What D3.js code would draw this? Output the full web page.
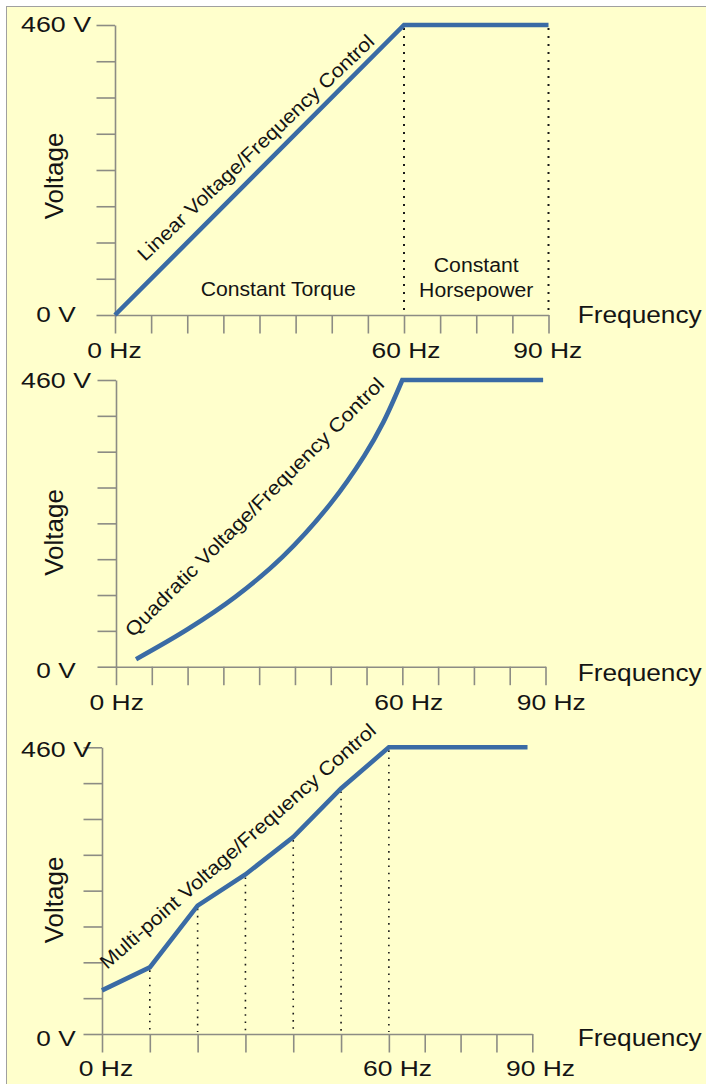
<!DOCTYPE html>
<html><head><meta charset="utf-8">
<script src="https://cdn.jsdelivr.net/npm/d3@7"></script>
<style>
html,body{margin:0;padding:0;background:#ffffff;}
svg{display:block;}
</style>
</head><body>
<svg id="chart" width="706" height="1084"></svg>
<script>
// ---------- data ----------
const voltTicks = [0, 57.5, 115, 172.5, 230, 287.5, 345, 402.5, 460];
const hzTicksUniform = [0, 7.5, 15, 22.5, 30, 37.5, 45, 52.5, 60, 67.5, 75, 82.5, 90];
const hzTicksMulti = [0, 10, 20, 30, 40, 50, 60, 67.5, 75, 82.5, 90];
const voltLabelValues = [0, 460];
const voltLabelTexts = ["0 V", "460 V"];
const hzLabelValues = [0, 60, 90];
const hzLabelTexts = ["0 Hz", "60 Hz", "90 Hz"];

const linearFreq = [0, 60, 90];
const linearVolt = [0, 460, 460];
const linearGuideFreq = [60, 90];
const linearGuideVolt = [460, 460];

const quadFreq = [4.2, 15, 25, 35, 45, 52, 56, 60];
const quadVolt = [12, 60, 112, 177, 262, 338, 392, 460];
const quadFlatEndFreq = 89.5;

const multiFreq = [0, 10, 20, 30, 40, 50, 60, 89];
const multiVolt = [70, 107, 206, 256, 316, 394, 460, 460];
const multiGuideFreq = [10, 20, 30, 40, 50, 60];
const multiGuideVolt = [107, 206, 256, 316, 394, 460];

const curveTitles = ["Linear Voltage/Frequency Control", "Quadratic Voltage/Frequency Control", "Multi-point Voltage/Frequency Control"];
const regionTexts = ["Constant Torque", "Constant", "Horsepower"];
const yTitle = "Voltage";
const xTitle = "Frequency";

// ---------- style ----------
const FONT = '"Liberation Sans", Arial, Helvetica, sans-serif';
const LINE_COLOR = "#3a6ba5";
const AXIS_COLOR = "#8c8c84";
const TEXT_COLOR = "#141414";

const svg = d3.select("#chart");
svg.append("rect")
  .attr("x", 6.5).attr("y", 6.5).attr("width", 740).attr("height", 1110)
  .attr("fill", "#ffffcc").attr("stroke", "#a0a0a0").attr("stroke-width", 1);

function txt(g, s, x, y, size, len, anchor) {
  const t = g.append("text")
    .attr("x", x).attr("y", y)
    .attr("font-family", FONT).attr("font-size", size)
    .attr("fill", TEXT_COLOR)
    .attr("text-anchor", anchor || "start")
    .text(s);
  if (len) t.attr("textLength", len).attr("lengthAdjust", "spacingAndGlyphs");
  return t;
}

const panels = [
  { left: 115, right: 548.5, top: 25, bottom: 315, hzTicks: hzTicksUniform,
    vLabelDy: [6.7, 6.7], hzDx: [-0.5, 2, -0.7], hzDy: 43.3, freqDy: 8.3, voltageCy: 176,
    title: { x: 145, y: 262, angle: -43.5, len: 318 } },
  { left: 116, right: 545.5, top: 380, bottom: 666.7, hzTicks: hzTicksUniform,
    vLabelDy: [11, 8.3], hzDx: [0.7, 6.4, 5.8], hzDy: 43.3, freqDy: 14.3, voltageCy: 532.5,
    title: { x: 133, y: 638, angle: -45, len: 357 } },
  { left: 102, right: 532.3, top: 747.3, bottom: 1034, hzTicks: hzTicksMulti,
    vLabelDy: [11.7, 9.4], hzDx: [4, 8.7, 8.2], hzDy: 41.7, freqDy: 12.3, voltageCy: 900,
    title: { x: 107, y: 970, angle: -41.3, len: 360 } }
];
const vLabelLens = [39.3, 70];
const hzLabelLens = [54.4, 69, 69];

panels.forEach((p, i) => {
  const x = d3.scaleLinear().domain([0, 90]).range([p.left, p.right]);
  const y = d3.scaleLinear().domain([0, 460]).range([p.bottom, p.top]);
  const g = svg.append("g");

  // axes
  const ya = d3.axisLeft(y).tickValues(voltTicks).tickSize(18.5).tickSizeOuter(0).tickFormat("");
  const yg = g.append("g").attr("transform", `translate(${p.left},0)`).call(ya);
  const xa = d3.axisBottom(x).tickValues(p.hzTicks).tickSize(18.5).tickSizeOuter(0).tickFormat("");
  const xg = g.append("g").attr("transform", `translate(0,${p.bottom})`).call(xa);
  [yg, xg].forEach(a => {
    a.selectAll("path,line").attr("stroke", AXIS_COLOR).attr("stroke-width", 1.6);
    a.selectAll("text").remove();
  });

  // guides
  let gf = [], gv = [], dash = "2,6", dw = 2;
  if (i === 0) { gf = linearGuideFreq; gv = linearGuideVolt; }
  if (i === 2) { gf = multiGuideFreq; gv = multiGuideVolt; dash = "1.6,5.6"; dw = 1.6; }
  g.selectAll(".guide").data(gf).enter().append("line")
    .attr("x1", d => x(d)).attr("x2", d => x(d))
    .attr("y1", (d, k) => y(gv[k]) + 3).attr("y2", y(0) - 2)
    .attr("stroke", "#1a1a1a").attr("stroke-width", dw).attr("stroke-dasharray", dash);

  // series
  let d = "";
  if (i === 0) {
    d = d3.line().x(k => x(linearFreq[k])).y(k => y(linearVolt[k]))(d3.range(linearFreq.length));
  } else if (i === 1) {
    d = d3.line().curve(d3.curveCatmullRom.alpha(0.5)).x(k => x(quadFreq[k])).y(k => y(quadVolt[k]))(d3.range(quadFreq.length));
    d += "L" + x(quadFlatEndFreq) + "," + y(quadVolt[quadVolt.length - 1]);
  } else {
    d = d3.line().x(k => x(multiFreq[k])).y(k => y(multiVolt[k]))(d3.range(multiFreq.length));
  }
  g.append("path").attr("d", d).attr("fill", "none")
    .attr("stroke", LINE_COLOR).attr("stroke-width", 4.6)
    .attr("stroke-linejoin", "miter").attr("stroke-linecap", "butt");

  // tick labels
  voltLabelValues.forEach((v, k) => {
    txt(g, voltLabelTexts[k], 56, y(v) + p.vLabelDy[k], 22, vLabelLens[k], "middle");
  });
  hzLabelValues.forEach((v, k) => {
    txt(g, hzLabelTexts[k], x(v) + p.hzDx[k], p.bottom + p.hzDy, 22, hzLabelLens[k], "middle");
  });

  // axis titles
  txt(g, xTitle, 577.7, p.bottom + p.freqDy, 24, 124, "start");
  txt(g, yTitle, 0, 0, 25.5, 86.7, "middle")
    .attr("transform", `translate(63.3,${p.voltageCy}) rotate(-90)`);

  // curve title
  txt(g, curveTitles[i], 0, 0, 19.5, p.title.len, "start")
    .attr("transform", `translate(${p.title.x},${p.title.y}) rotate(${p.title.angle})`);

  if (i === 0) {
    txt(g, regionTexts[0], 200.7, 295.7, 21, 155, "start");
    const cx = (x(60) + x(90)) / 2;
    txt(g, regionTexts[1], cx, 271.7, 20, 85, "middle");
    txt(g, regionTexts[2], cx, 296.7, 20, 114.3, "middle");
  }
});
</script>
</body></html>
